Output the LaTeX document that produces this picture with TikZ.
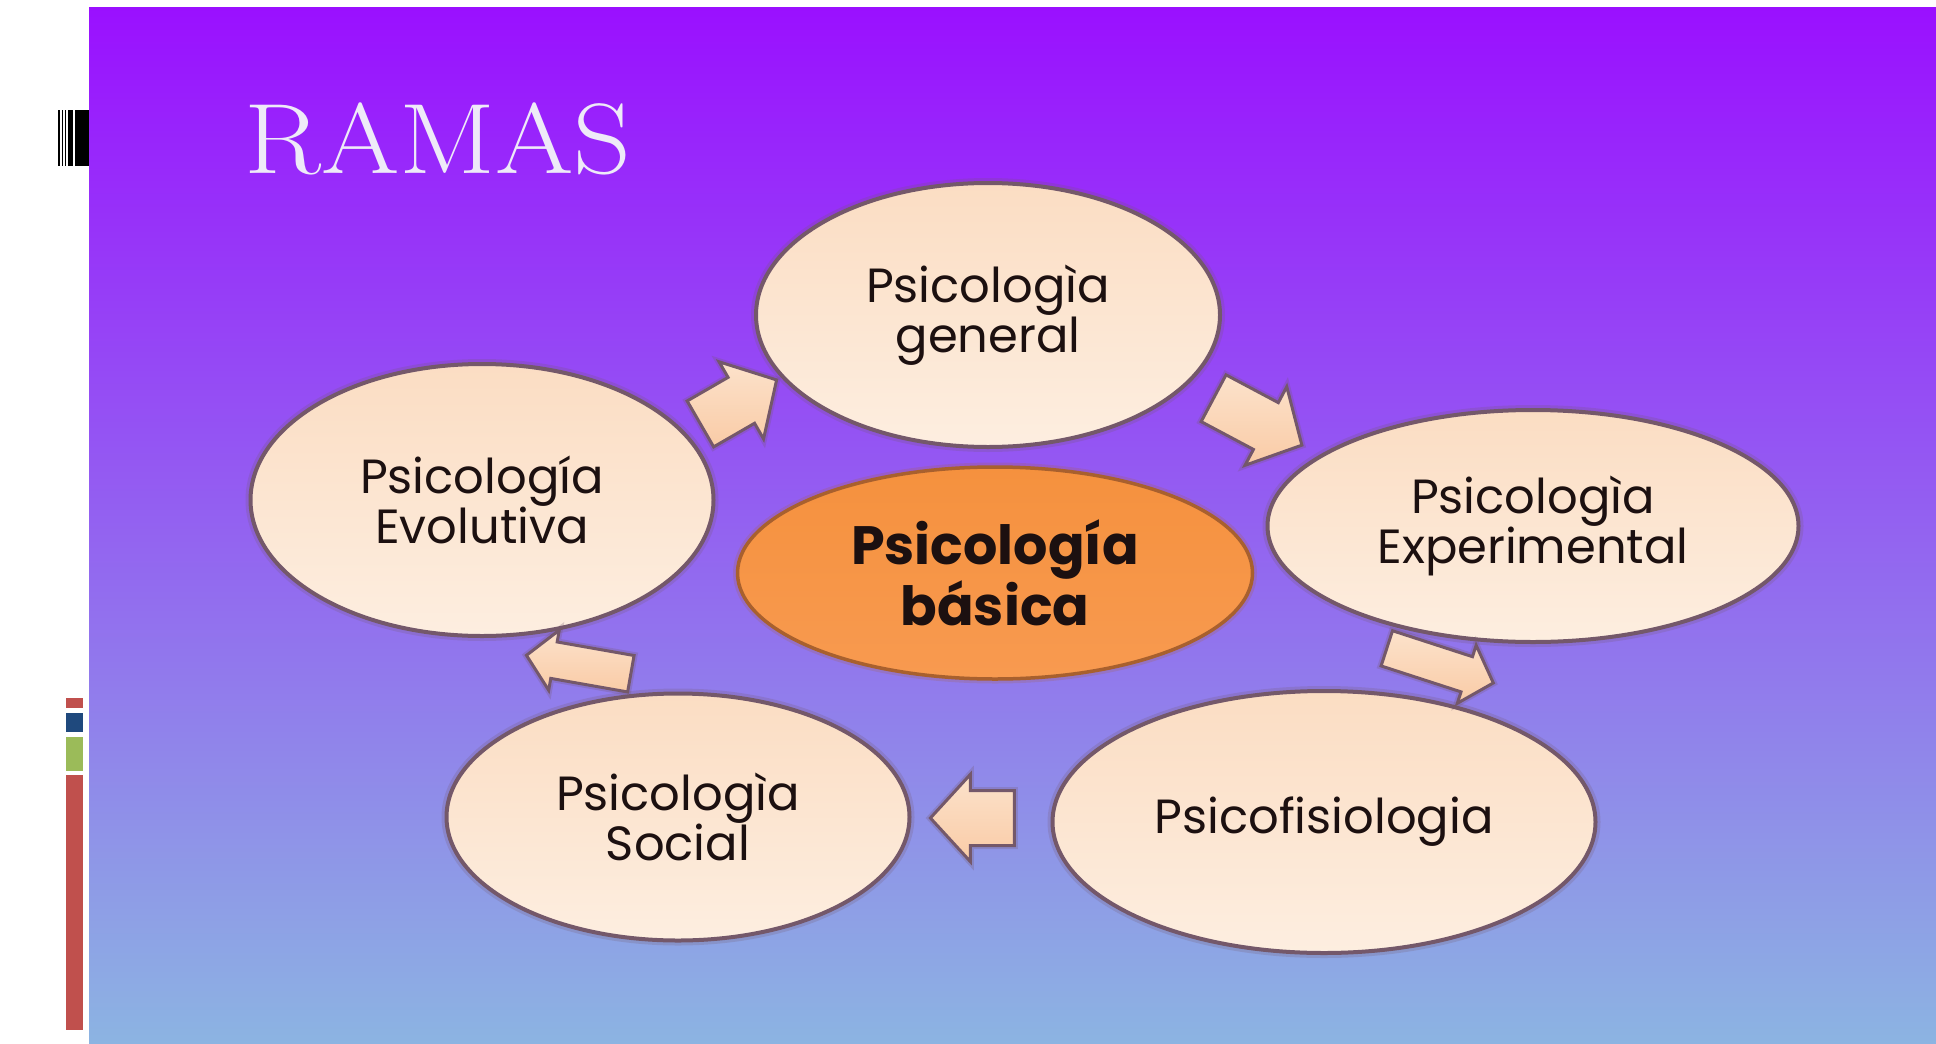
\documentclass[tikz,border=0pt]{standalone}
\usepackage{fontspec}
\newfontfamily\pop{Poppins}
\usetikzlibrary{shapes.geometric,shapes.arrows}
\definecolor{bgtop}{HTML}{9A10FF}
\definecolor{bgmid}{HTML}{8872F0}
\definecolor{bgbot}{HTML}{8CB4E2}
\definecolor{pk1}{HTML}{FBDDC3}
\definecolor{pk2}{HTML}{F9CBA6}
\definecolor{pk3}{HTML}{FDEEE0}
\definecolor{ebord}{HTML}{74586A}
\definecolor{txt}{HTML}{1C1010}
\definecolor{org1}{HTML}{F5913E}
\definecolor{org2}{HTML}{F89A50}
\definecolor{obord}{HTML}{A8602E}
\definecolor{ar1}{HTML}{FCE2CB}
\definecolor{ar2}{HTML}{F9CBA6}
\definecolor{titc}{HTML}{EEEAF8}
\definecolor{barred}{HTML}{C0504D}
\definecolor{barblue}{HTML}{1F497D}
\definecolor{bargreen}{HTML}{9BBB59}
\begin{document}
\begin{tikzpicture}[x=1pt,y=-1pt,
  bubble/.style={ellipse, draw=ebord, line width=4pt, top color=pk1,
    middle color=pk2, bottom color=pk3, inner sep=0pt, align=center,
    text=txt, font=\pop\fontsize{48}{50}\selectfont,
    preaction={draw=ebord, line width=10pt, draw opacity=0.22}},
  core/.style={ellipse, draw=obord, line width=3.5pt, top color=org1,
    bottom color=org2, inner sep=0pt, align=center, text=txt,
    font=\pop\bfseries\fontsize{54}{54}\selectfont,
    preaction={draw=obord, line width=9pt, draw opacity=0.2}},
  barrow/.style={single arrow, draw=ebord, line width=3pt, top color=ar1,
    bottom color=ar2, inner xsep=0pt, single arrow tip angle=95,
    preaction={draw=ebord, line width=7pt, draw opacity=0.25}},
  barmark/.style={fill=black, draw=none},
  titlefont/.style={font=\fontsize{100}{100}\selectfont, xscale=1.13, inner sep=0pt, anchor=base west}]
\useasboundingbox (0,0) rectangle (1936,1044);
\fill[white] (0,0) rectangle (1936,1044);
% background panel
\shade[top color=bgtop, middle color=bgmid, bottom color=bgbot, draw=none]
  (89,7) rectangle (1936,1044);
% left decorations
\fill[barmark] (58,110) rectangle (60,166);
\fill[barmark] (62,110) rectangle (63,166);
\fill[barmark] (64.5,110) rectangle (66,166);
\fill[barmark] (68,110) rectangle (73,166);
\fill[barmark] (74.5,110) rectangle (89,166);
\fill[barred] (66,698) rectangle (83,708);
\fill[barblue] (66,713) rectangle (83,732);
\fill[bargreen] (66,737) rectangle (83,771);
\fill[barred] (66,775) rectangle (83,1030);
% title
\node[titlefont, text=titc] (title) at (244,173) {RAMAS};
% ellipses
\node[bubble, minimum width=464pt, minimum height=264pt] (gen) at (988,315) {Psicologìa\\general};
\node[bubble, minimum width=531pt, minimum height=232pt] (exp) at (1533,526) {Psicologìa\\Experimental};
\node[bubble, minimum width=543pt, minimum height=262pt] (fis) at (1324,822) {Psicofisiologia};
\node[bubble, minimum width=463pt, minimum height=247pt] (soc) at (678,817) {Psicologìa\\Social};
\node[bubble, minimum width=463pt, minimum height=272pt] (evo) at (482,500) {Psicología\\Evolutiva};
\node[core, minimum width=515pt, minimum height=212pt] (bas) at (995,573) {Psicología\\básica};
% block arrows
\node[barrow, minimum height=88pt, inner ysep=25pt, minimum width=86pt, single arrow head extend=18pt, rotate=30] (a1) at (728,408) {};
\node[barrow, minimum height=100pt, inner ysep=25pt, minimum width=86pt, single arrow head extend=18pt, rotate=-28] (a2) at (1247,416) {};
\node[barrow, minimum height=112pt, inner ysep=17pt, minimum width=58pt, single arrow head extend=12pt, rotate=-18] (a3) at (1432,663) {};
\node[barrow, minimum height=84pt, inner ysep=26pt, minimum width=84pt, single arrow head extend=16pt, rotate=180] (a4) at (985,818) {};
\node[barrow, minimum height=106pt, inner ysep=17pt, minimum width=58pt, single arrow head extend=12pt, rotate=170] (a5) at (587,666) {};
\end{tikzpicture}
\end{document}
